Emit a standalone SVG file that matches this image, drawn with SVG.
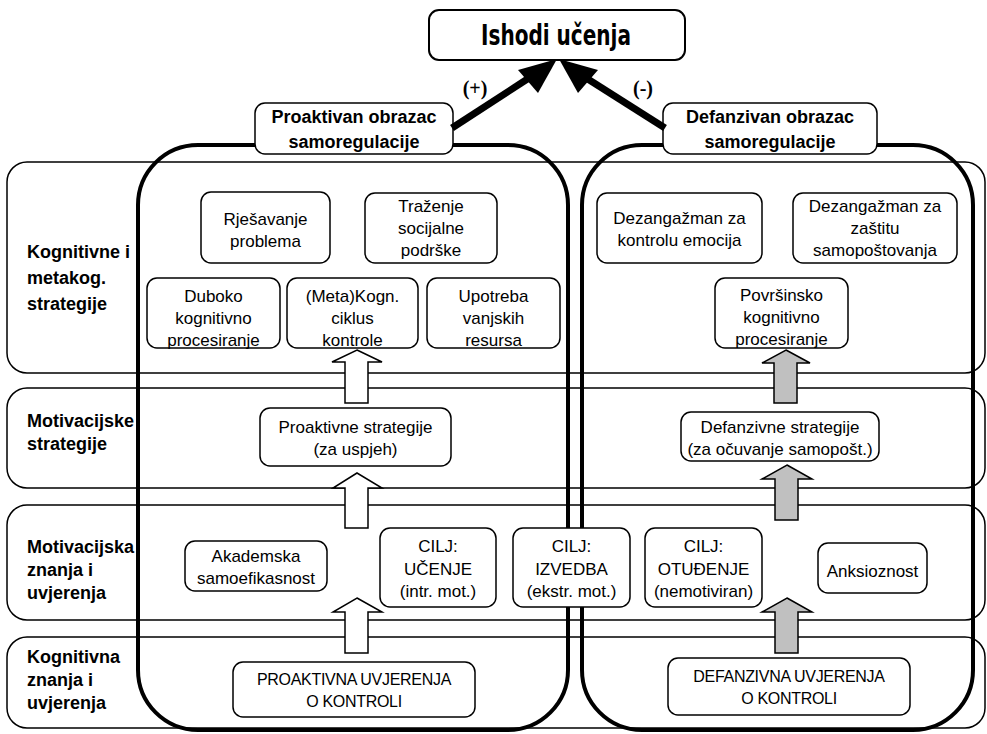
<svg xmlns="http://www.w3.org/2000/svg" width="987" height="734" viewBox="0 0 987 734">
<style>
.band{fill:#fff;stroke:#000;stroke-width:1.5}
.big{fill:none;stroke:#000;stroke-width:4}
.box{fill:#fff;stroke:#000;stroke-width:1.5}
.t{font-family:"Liberation Sans",Arial,sans-serif;font-size:17px;text-anchor:middle;fill:#000}
.caps{font-family:"Liberation Sans",Arial,sans-serif;font-size:16px;letter-spacing:-0.3px;text-anchor:middle;fill:#000}
.lab{font-family:"Liberation Sans",Arial,sans-serif;font-size:18px;font-weight:bold;fill:#000}
.hdr{font-family:"Liberation Sans",Arial,sans-serif;font-size:18px;font-weight:bold;text-anchor:middle;fill:#000}
.sign{font-family:"Liberation Serif","Times New Roman",serif;font-size:20px;text-anchor:middle;fill:#000}
.warr{fill:#fff;stroke:#000;stroke-width:1.5;stroke-linejoin:miter}
.garr{fill:#c0c0c0;stroke:#000;stroke-width:1.5;stroke-linejoin:miter}
.thick{stroke:#000;stroke-width:7;fill:none}
</style>

<g id="bands">
  <g id="band-kognitivne-strategije">
    <rect class="band" x="7" y="162" width="978" height="211" rx="20"/>
    <text class="lab" x="27"><tspan x="27" y="258">Kognitivne i</tspan><tspan x="27" y="284">metakog.</tspan><tspan x="27" y="310">strategije</tspan></text>
  </g>
  <g id="band-motivacijske-strategije">
    <rect class="band" x="7" y="388" width="978" height="100" rx="20"/>
    <text class="lab"><tspan x="27" y="427">Motivacijske</tspan><tspan x="27" y="450">strategije</tspan></text>
  </g>
  <g id="band-motivacijska-znanja">
    <rect class="band" x="7" y="505" width="978" height="115" rx="20"/>
    <text class="lab"><tspan x="27" y="553">Motivacijska</tspan><tspan x="27" y="576">znanja i</tspan><tspan x="27" y="599">uvjerenja</tspan></text>
  </g>
  <g id="band-kognitivna-znanja">
    <rect class="band" x="7" y="637" width="978" height="91" rx="20"/>
    <text class="lab"><tspan x="27" y="663">Kognitivna</tspan><tspan x="27" y="686">znanja i</tspan><tspan x="27" y="709">uvjerenja</tspan></text>
  </g>
</g>

<g id="containers">
  <rect id="proaktivan-container" class="big" x="138" y="145" width="430" height="585" rx="60"/>
  <rect id="defanzivan-container" class="big" x="582" y="145" width="391" height="585" rx="60"/>
</g>

<g id="proaktivan-obrazac">
  <rect class="box" x="255" y="103" width="198" height="51" rx="10"/>
  <text class="hdr"><tspan x="354" y="123">Proaktivan obrazac</tspan><tspan x="354" y="148">samoregulacije</tspan></text>
</g>
<g id="defanzivan-obrazac">
  <rect class="box" x="663" y="103" width="214" height="51" rx="10"/>
  <text class="hdr"><tspan x="770" y="123">Defanzivan obrazac</tspan><tspan x="770" y="148">samoregulacije</tspan></text>
</g>
<g id="ishodi-ucenja">
  <rect class="box" x="429" y="10" width="256" height="50" rx="10" style="stroke-width:2"/>
  <text x="556" y="45" textLength="150" lengthAdjust="spacingAndGlyphs" style="font-family:'DejaVu Sans Condensed','Liberation Sans',sans-serif;font-size:29px;font-weight:bold;text-anchor:middle">Ishodi učenja</text>
</g>

<g id="connectors">
  <line class="thick" x1="452" y1="128" x2="532" y2="76"/>
  <polygon points="557,59 518,70 538,93" fill="#000"/>
  <line class="thick" x1="665" y1="128" x2="583" y2="76"/>
  <polygon points="559,59 598,70 578,93" fill="#000"/>
  <text class="sign" x="475" y="95" style="font-weight:bold">(+)</text>
  <text class="sign" x="643" y="95" style="font-weight:bold">(-)</text>
</g>

<g id="boxes">
  <g id="rjesavanje"><rect class="box" x="201" y="192" width="129" height="71" rx="10"/>
    <text class="t"><tspan x="265.5" y="225">Rješavanje</tspan><tspan x="265.5" y="247">problema</tspan></text></g>
  <g id="trazenje"><rect class="box" x="365" y="193" width="132" height="70" rx="10"/>
    <text class="t"><tspan x="431" y="212">Traženje</tspan><tspan x="431" y="234">socijalne</tspan><tspan x="431" y="256">podrške</tspan></text></g>
  <g id="duboko"><rect class="box" x="147" y="278" width="133" height="70" rx="10"/>
    <text class="t"><tspan x="213.5" y="302">Duboko</tspan><tspan x="213.5" y="324">kognitivno</tspan><tspan x="213.5" y="346">procesiranje</tspan></text></g>
  <g id="metakogn"><rect class="box" x="287" y="278" width="131" height="70" rx="10"/>
    <text class="t"><tspan x="352.5" y="302">(Meta)Kogn.</tspan><tspan x="352.5" y="324">ciklus</tspan><tspan x="352.5" y="346">kontrole</tspan></text></g>
  <g id="upotreba"><rect class="box" x="427" y="278" width="133" height="70" rx="10"/>
    <text class="t"><tspan x="493.5" y="302">Upotreba</tspan><tspan x="493.5" y="324">vanjskih</tspan><tspan x="493.5" y="346">resursa</tspan></text></g>
  <g id="dezangazman-emocije"><rect class="box" x="597" y="193" width="165" height="70" rx="10"/>
    <text class="t"><tspan x="679.5" y="224">Dezangažman za</tspan><tspan x="679.5" y="246">kontrolu emocija</tspan></text></g>
  <g id="dezangazman-samopostovanje"><rect class="box" x="793" y="193" width="164" height="70" rx="10"/>
    <text class="t"><tspan x="875" y="212">Dezangažman za</tspan><tspan x="875" y="234">zaštitu</tspan><tspan x="875" y="256">samopoštovanja</tspan></text></g>
  <g id="povrsinsko"><rect class="box" x="715" y="278" width="133" height="70" rx="10"/>
    <text class="t"><tspan x="781.5" y="301">Površinsko</tspan><tspan x="781.5" y="323">kognitivno</tspan><tspan x="781.5" y="345">procesiranje</tspan></text></g>
  <g id="proaktivne-strategije"><rect class="box" x="260" y="408" width="191" height="58" rx="10"/>
    <text class="t"><tspan x="355.5" y="433">Proaktivne strategije</tspan><tspan x="355.5" y="455">(za uspjeh)</tspan></text></g>
  <g id="defanzivne-strategije"><rect class="box" x="681" y="412" width="198" height="49" rx="10"/>
    <text class="t"><tspan x="780" y="433">Defanzivne strategije</tspan><tspan x="780" y="455">(za očuvanje samopošt.)</tspan></text></g>
  <g id="akademska"><rect class="box" x="185" y="541" width="142" height="50" rx="10"/>
    <text class="t"><tspan x="256" y="562">Akademska</tspan><tspan x="256" y="584">samoefikasnost</tspan></text></g>
  <g id="cilj-ucenje"><rect class="box" x="380" y="528" width="116" height="79" rx="10"/>
    <text class="t"><tspan x="438" y="552">CILJ:</tspan><tspan x="438" y="575">UČENJE</tspan><tspan x="438" y="597">(intr. mot.)</tspan></text></g>
  <g id="cilj-izvedba"><rect class="box" x="513" y="528" width="117" height="79" rx="10"/>
    <text class="t"><tspan x="571.5" y="552">CILJ:</tspan><tspan x="571.5" y="575">IZVEDBA</tspan><tspan x="571.5" y="597">(ekstr. mot.)</tspan></text></g>
  <g id="cilj-otudjenje"><rect class="box" x="645" y="528" width="117" height="79" rx="10"/>
    <text class="t"><tspan x="703.5" y="552">CILJ:</tspan><tspan x="703.5" y="575">OTUĐENJE</tspan><tspan x="703.5" y="597">(nemotiviran)</tspan></text></g>
  <g id="anksioznost"><rect class="box" x="818" y="543" width="109" height="50" rx="10"/>
    <text class="t" x="872.5" y="577">Anksioznost</text></g>
  <g id="proaktivna-uvjerenja"><rect class="box" x="233" y="662" width="242" height="55" rx="10"/>
    <text class="caps"><tspan x="354" y="685">PROAKTIVNA UVJERENJA</tspan><tspan x="354" y="707">O KONTROLI</tspan></text></g>
  <g id="defanzivna-uvjerenja"><rect class="box" x="668" y="658" width="242" height="57" rx="10"/>
    <text class="caps"><tspan x="789" y="682">DEFANZIVNA UVJERENJA</tspan><tspan x="789" y="704">O KONTROLI</tspan></text></g>
</g>

<g id="block-arrows">
  <polygon class="warr" points="357,350 382,362 368,362 368,403 345,403 345,362 332,362"/>
  <polygon class="warr" points="357,473 382,488 368,488 368,528 345,528 345,488 333,488"/>
  <polygon class="warr" points="357,598 382,612 368,612 368,653 345,653 345,612 333,612"/>
  <polygon class="garr" points="786,350 810,363 797,363 797,403 774,403 774,363 762,363"/>
  <polygon class="garr" points="787,465 812,479 798,479 798,520 775,520 775,479 762,479"/>
  <polygon class="garr" points="787,598 812,612 798,612 798,653 775,653 775,612 762,612"/>
</g>
</svg>
